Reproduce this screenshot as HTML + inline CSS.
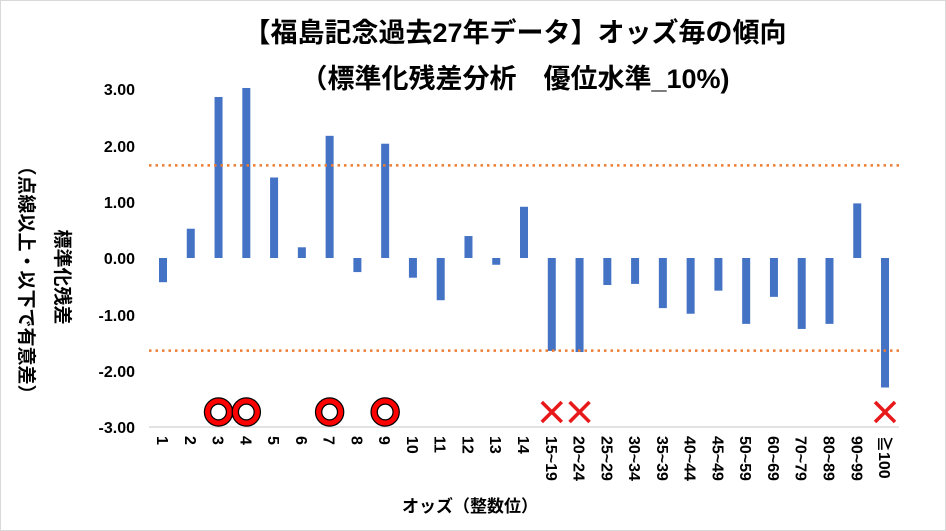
<!DOCTYPE html>
<html><head><meta charset="utf-8"><style>
html,body{margin:0;padding:0;background:#fff}
svg{display:block}
text{font-family:"Liberation Sans","Noto Sans CJK JP",sans-serif;font-weight:bold;fill:#000}
</style></head><body>
<svg width="946" height="531" viewBox="0 0 946 531" xmlns="http://www.w3.org/2000/svg">
<rect x="0.5" y="0.5" width="945" height="530" fill="#fff" stroke="#d9d9d9"/>
<text x="515" y="42" font-size="27" text-anchor="middle">【福島記念過去27年データ】オッズ毎の傾向</text>
<text x="515" y="88" font-size="27" text-anchor="middle">（標準化残差分析　優位水準_10%)</text>
<g font-size="16" text-anchor="end">
<text x="135" y="95">3.00</text><text x="135" y="152">2.00</text><text x="135" y="208">1.00</text>
<text x="135" y="264">0.00</text><text x="135" y="321">-1.00</text><text x="135" y="377">-2.00</text><text x="135" y="433">-3.00</text>
</g>
<text transform="translate(56,277) rotate(90)" font-size="19" text-anchor="middle">標準化残差</text>
<text transform="translate(20,280) rotate(90)" font-size="19" text-anchor="middle">（点線以上・以下で有意差）</text>
<line x1="149" y1="427" x2="899" y2="427" stroke="#d9d9d9" stroke-width="1.5"/>
<g id="bars" fill="#4472c4"></g>
<line x1="149" y1="165.4" x2="899" y2="165.4" stroke="#ed7d31" stroke-width="2.5" stroke-dasharray="2.5,4"/>
<line x1="149" y1="350.6" x2="899" y2="350.6" stroke="#ed7d31" stroke-width="2.5" stroke-dasharray="2.5,4"/>
<g id="marks"></g>
<g id="labels" font-size="16"></g>
<text x="470" y="512" font-size="17" text-anchor="middle">オッズ（整数位）</text>
</svg>
<script>
var cats=["1","2","3","4","5","6","7","8","9","10","11","12","13","14","15~19","20~24","25~29","30~34","35~39","40~44","45~49","50~59","60~69","70~79","80~89","90~99","≧100"];
var vals=[-0.43,0.52,2.86,3.02,1.43,0.19,2.17,-0.25,2.03,-0.35,-0.75,0.39,-0.12,0.91,-1.65,-1.67,-0.48,-0.46,-0.89,-0.99,-0.58,-1.17,-0.69,-1.26,-1.17,0.97,-2.3];
var ns="http://www.w3.org/2000/svg";
function el(t,a,p){var e=document.createElementNS(ns,t);for(var k in a)e.setAttribute(k,a[k]);p.appendChild(e);return e;}
var bars=document.getElementById("bars"),marks=document.getElementById("marks"),labels=document.getElementById("labels");
var y0=258,s=56.3;
for(var i=0;i<cats.length;i++){
 var cx=163+i*27.77,v=vals[i];
 var y=v>=0?y0-v*s:y0,h=Math.abs(v)*s;
 el("rect",{"x":cx-4,"y":y,"width":8,"height":h},bars);
 var t=el("text",{"transform":"translate("+(cx-6)+",436) rotate(90)"},labels);t.textContent=cats[i];
}
[2,3,6,8].forEach(function(i){var cx=163+i*27.77;
 el("circle",{"cx":cx,"cy":412,"r":11,"fill":"none","stroke":"#000","stroke-width":7.5},marks);
 el("circle",{"cx":cx,"cy":412,"r":11,"fill":"none","stroke":"#ff0000","stroke-width":5},marks);});
[14,15,26].forEach(function(i){var cx=163+i*27.77;
 el("path",{"d":"M"+(cx-10)+",402L"+(cx+10)+",422M"+(cx+10)+",402L"+(cx-10)+",422","stroke":"#e8191b","stroke-width":3.5},marks);});
</script>
</body></html>
